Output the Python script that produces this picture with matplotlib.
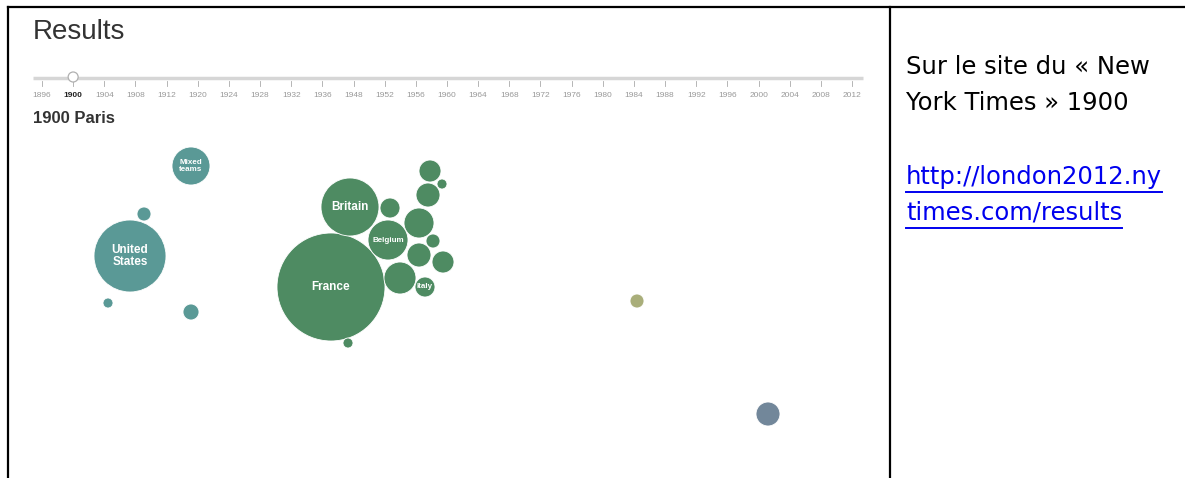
import matplotlib

matplotlib.use("Agg")
import matplotlib.pyplot as plt
from matplotlib.patches import Circle

W, H = 1185, 478

# timeline years
years = [1896, 1900, 1904, 1908, 1912, 1920, 1924, 1928, 1932, 1936, 1948, 1952,
         1956, 1960, 1964, 1968, 1972, 1976, 1980, 1984, 1988, 1992, 1996, 2000,
         2004, 2008, 2012]
selected_year = 1900

# bubbles (pixel position on the page, radius) with labels and groups
bubble_x = [130, 191, 144, 108, 191,
            331, 350, 388, 390, 430, 442, 428, 419, 433, 419, 443, 400, 425, 348,
            637, 768]
bubble_y = [256, 166, 214, 303, 312,
            287, 207, 240, 208, 171, 184, 195, 223, 241, 255, 262, 278, 287, 343,
            301, 414]
bubble_r = [36, 19, 7, 5, 8,
            54, 29, 20, 10, 11, 5, 12, 15, 7, 12, 11, 16, 10, 5,
            7, 12]
bubble_label = ["United\nStates", "Mixed\nteams", "", "", "",
                "France", "Britain", "Belgium", "", "", "", "", "", "", "", "", "", "Italy", "",
                "", ""]
bubble_group = ["americas", "americas", "americas", "americas", "americas",
                "europe", "europe", "europe", "europe", "europe", "europe", "europe",
                "europe", "europe", "europe", "europe", "europe", "europe", "europe",
                "asia", "oceania"]

group_colors = {"americas": "#5a9996", "europe": "#4e8b62",
                "asia": "#a9ae7a", "oceania": "#72879a"}

fig = plt.figure(figsize=(W / 100, H / 100), dpi=100)
ax = fig.add_axes([0, 0, 1, 1])
ax.set_xlim(0, W)
ax.set_ylim(H, 0)
ax.axis("off")

# table borders
ax.plot([8, 8], [7, H], color="black", lw=1.6)
ax.plot([8, W], [7, 7], color="black", lw=1.6)
ax.plot([890, 890], [7, H], color="black", lw=1.6)

# header
ax.text(33, 32, "Results", fontsize=20, family="Liberation Sans", color="#333333",
        va="center", ha="left")

# timeline
x0, x1 = 42, 852
step = (x1 - x0) / (len(years) - 1)
ax.plot([33, 863], [77.5, 77.5], color="#d6d6d6", lw=2.5, solid_capstyle="butt", zorder=1)
for i, yr in enumerate(years):
    xp = x0 + i * step
    ax.plot([xp, xp], [81, 86], color="#aaaaaa", lw=0.6)
    bold = yr == selected_year
    ax.text(xp, 95, str(yr), fontsize=6, family="Liberation Sans",
            color="#222222" if bold else "#999999",
            fontweight="bold" if bold else "normal", ha="center", va="center")
sel_x = x0 + years.index(selected_year) * step
ax.add_patch(Circle((sel_x, 77), 5, facecolor="white", edgecolor="#b0b0b0", lw=0.9, zorder=3))

ax.text(33, 118, f"{selected_year} Paris", fontsize=12, family="Liberation Sans",
        fontweight="bold", color="#333333", va="center", ha="left")

# bubbles
for bx, by, br, lab, grp in zip(bubble_x, bubble_y, bubble_r, bubble_label, bubble_group):
    ax.add_patch(Circle((bx, by), br, facecolor=group_colors[grp],
                        edgecolor="#ffffff", lw=0.6, zorder=2))
    if lab:
        fs = 8.5 if br > 25 else 5.8
        ax.text(bx, by, lab, fontsize=fs, family="Liberation Sans", fontweight="bold",
                color="white", ha="center", va="center", linespacing=0.9, zorder=3)

# right column text
side_font = "DejaVu Sans"
side_size = 17.5
ax.text(906, 67, "Sur le site du « New", fontsize=side_size, family=side_font,
        color="black", va="center", ha="left")
ax.text(906, 103, "York Times » 1900", fontsize=side_size, family=side_font,
        color="black", va="center", ha="left")
links = ["http://london2012.ny", "times.com/results"]
link_y = [177, 213]
fig.canvas.draw()
renderer = fig.canvas.get_renderer()
for txt, ly in zip(links, link_y):
    t = ax.text(906, ly, txt, fontsize=side_size, family=side_font, color="#0000ee",
                va="center", ha="left")
    bb = t.get_window_extent(renderer).transformed(ax.transData.inverted())
    ax.plot([bb.x0, bb.x1], [ly + 15, ly + 15], color="#0000ee", lw=1.4)

fig.savefig("out.png", dpi=100)
plt.close(fig)
